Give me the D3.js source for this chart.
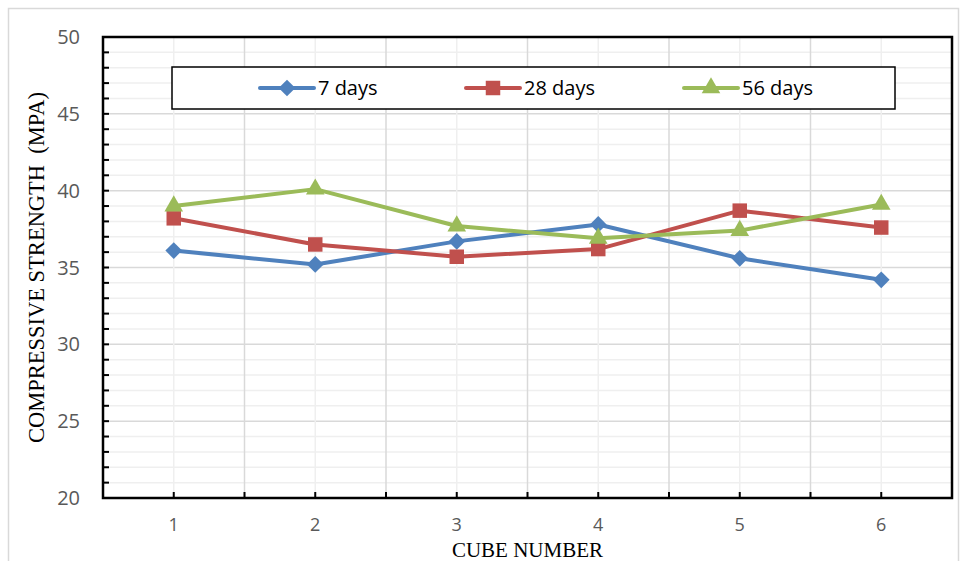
<!DOCTYPE html>
<html>
<head>
<meta charset="utf-8">
<script src="https://cdn.jsdelivr.net/npm/d3@7/dist/d3.min.js"></script>
<style>
  body { margin: 0; background: #fff; }
  svg { display: block; }
</style>
</head>
<body>
<div id="chart-area"></div>
<script>
// data
const cubes = ['1', '2', '3', '4', '5', '6'];
const seriesNames = ['7 days', '28 days', '56 days'];
const days7 = [36.1, 35.2, 36.7, 37.8, 35.6, 34.2];
const days28 = [38.2, 36.5, 35.7, 36.2, 38.7, 37.6];
const days56 = [39.0, 40.1, 37.7, 36.9, 37.4, 39.1];
const yTicks = [20, 25, 30, 35, 40, 45, 50];

const colors = ['#4f81bd', '#c0504d', '#9bbb59'];
const allSeries = [days7, days28, days56];

// marker shapes: diamond is a square turned 45deg
const markerPath = [
  d3.symbol().type(d3.symbolSquare).size(140)(),
  d3.symbol().type(d3.symbolSquare).size(210)(),
  d3.symbol().type(d3.symbolTriangle).size(150)()
];
const markerRot = [45, 0, 0];

const margin = { top: 37, right: 9, bottom: 63, left: 103 };
const W = 961, H = 561;
const width = W - margin.left - margin.right;
const height = H - margin.top - margin.bottom;

const svg = d3.select('#chart-area')
  .append('svg')
    .attr('width', W)
    .attr('height', H);

// outer chart border
svg.append('rect')
  .attr('x', 8.5).attr('y', 8.5)
  .attr('width', 950).attr('height', 570)
  .attr('fill', 'none')
  .attr('stroke', '#d9d9d9')
  .attr('stroke-width', 1.5);

const g = svg.append('g')
  .attr('transform', 'translate(' + margin.left + ',' + margin.top + ')');

const x = d3.scaleBand()
  .domain(cubes)
  .range([0, width]);

const y = d3.scaleLinear()
  .domain([20, 50])
  .range([height, 0]);

const minor = d3.range(20, 51, 1);

// horizontal gridlines
g.append('g').selectAll('line')
  .data(minor)
  .enter().append('line')
    .attr('x1', 0).attr('x2', width)
    .attr('y1', d => y(d)).attr('y2', d => y(d))
    .attr('stroke', d => d % 5 === 0 ? '#d9d9d9' : '#efefef')
    .attr('stroke-width', 1.5);

// vertical gridlines: centres light, boundaries darker
g.append('g').selectAll('line')
  .data(cubes)
  .enter().append('line')
    .attr('x1', d => x(d) + x.bandwidth() / 2).attr('x2', d => x(d) + x.bandwidth() / 2)
    .attr('y1', 0).attr('y2', height)
    .attr('stroke', '#efefef')
    .attr('stroke-width', 1.5);

g.append('g').selectAll('line')
  .data(cubes.slice(1))
  .enter().append('line')
    .attr('x1', d => x(d)).attr('x2', d => x(d))
    .attr('y1', 0).attr('y2', height)
    .attr('stroke', '#d9d9d9')
    .attr('stroke-width', 1.5);

// tick marks (inside)
g.append('g').selectAll('line')
  .data(minor)
  .enter().append('line')
    .attr('x1', 0).attr('x2', 6)
    .attr('y1', d => y(d)).attr('y2', d => y(d))
    .attr('stroke', '#000')
    .attr('stroke-width', 2);

const xTickPos = [];
cubes.forEach((c, i) => {
  xTickPos.push(x(c) + x.bandwidth() / 2);
  if (i > 0) xTickPos.push(x(c));
});
g.append('g').selectAll('line')
  .data(xTickPos)
  .enter().append('line')
    .attr('x1', d => d).attr('x2', d => d)
    .attr('y1', height).attr('y2', height - 6)
    .attr('stroke', '#000')
    .attr('stroke-width', 2);

// plot frame
g.append('rect')
  .attr('width', width).attr('height', height)
  .attr('fill', 'none')
  .attr('stroke', '#000')
  .attr('stroke-width', 2.5);

// tick labels
g.append('g').selectAll('text')
  .data(yTicks)
  .enter().append('text')
    .attr('x', -23).attr('y', d => y(d))
    .attr('dy', '0.35em')
    .attr('text-anchor', 'end')
    .attr('font-family', 'Open Sans, sans-serif')
    .attr('font-size', 20)
    .attr('fill', '#595959')
    .text(d => d);

g.append('g').selectAll('text')
  .data(cubes)
  .enter().append('text')
    .attr('x', d => x(d) + x.bandwidth() / 2)
    .attr('y', height + 33)
    .attr('text-anchor', 'middle')
    .attr('font-family', 'Open Sans, sans-serif')
    .attr('font-size', 18)
    .attr('fill', '#595959')
    .text(d => d);

// axis titles
svg.append('text')
  .attr('transform', 'translate(44,' + (margin.top + height / 2) + ') rotate(-90)')
  .attr('text-anchor', 'middle')
  .attr('font-family', 'Liberation Serif, serif')
  .attr('font-size', 22.5)
  .attr('fill', '#000')
  .style('white-space', 'pre')
  .text('COMPRESSIVE STRENGTH  (MPA)');

svg.append('text')
  .attr('x', margin.left + width / 2)
  .attr('y', 557)
  .attr('text-anchor', 'middle')
  .attr('font-family', 'Liberation Serif, serif')
  .attr('font-size', 21)
  .attr('fill', '#000')
  .text('CUBE NUMBER');

// lines + markers
const line = d3.line()
  .x((d, i) => x(cubes[i]) + x.bandwidth() / 2)
  .y(d => y(d));

allSeries.forEach((s, k) => {
  g.append('path')
    .datum(s)
    .attr('d', line)
    .attr('fill', 'none')
    .attr('stroke', colors[k])
    .attr('stroke-width', 4)
    .attr('stroke-linejoin', 'round');

  g.append('g').selectAll('path')
    .data(s)
    .enter().append('path')
      .attr('transform', (d, i) => 'translate(' + (x(cubes[i]) + x.bandwidth() / 2) + ',' + y(d) + ') rotate(' + markerRot[k] + ')')
      .attr('d', markerPath[k])
      .attr('fill', colors[k]);
});

// legend
const legend = svg.append('g');
legend.append('rect')
  .attr('x', 172).attr('y', 67)
  .attr('width', 723).attr('height', 42)
  .attr('fill', '#fff')
  .attr('stroke', '#000')
  .attr('stroke-width', 1.5);

const legendX = [260, 466, 684];
seriesNames.forEach((name, k) => {
  const lg = legend.append('g')
    .attr('transform', 'translate(' + legendX[k] + ',88)');
  lg.append('line')
    .attr('x1', 0).attr('x2', 54)
    .attr('stroke', colors[k])
    .attr('stroke-width', 4)
    .attr('stroke-linecap', 'round');
  lg.append('path')
    .attr('transform', 'translate(27,0) rotate(' + markerRot[k] + ')')
    .attr('d', markerPath[k])
    .attr('fill', colors[k]);
  lg.append('text')
    .attr('x', 58).attr('dy', '0.35em')
    .attr('font-family', 'Open Sans, sans-serif')
    .attr('font-size', 20)
    .attr('fill', '#000')
    .text(name);
});
</script>
</body>
</html>
